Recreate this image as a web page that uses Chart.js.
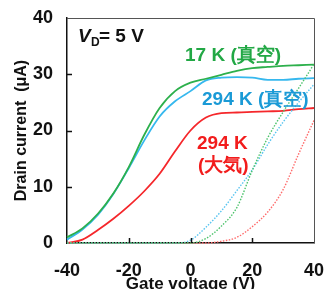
<!DOCTYPE html>
<html>
<head>
<meta charset="utf-8">
<script src="https://cdn.jsdelivr.net/npm/chart.js@4"></script>
<style>
  html, body { margin: 0; padding: 0; background: #fff; }
  #wrap { width: 324px; height: 289px; }
</style>
</head>
<body>
<div id="wrap"><canvas id="c" width="324" height="289"></canvas></div>
<script>
// gate voltage (V)
const gateV = [-40, -35, -30, -25, -20, -15, -10, -5, 0, 5, 10, 15, 20, 25, 30, 35, 40];

// drain current (uA), solid curves
const vac17K  = [1.0, 2.6, 5.2, 8.8, 13.5, 19.2, 24.0, 27.0, 28.5, 29.2, 29.9, 30.6, 31.1, 31.3, 31.5, 31.6, 31.7];
const vac294K = [0.6, 2.4, 5.0, 8.7, 13.3, 18.2, 22.5, 25.2, 27.0, 28.9, 29.4, 29.5, 29.4, 29.0, 29.0, 29.2, 29.3];
const air294K = [0.0, 0.6, 2.3, 4.3, 6.6, 9.2, 12.3, 16.3, 20.0, 22.3, 23.1, 23.2, 23.3, 23.4, 23.5, 23.8, 24.0];

// dotted curves
const vac17KDot  = [0, 0, 0, 0, 0, 0, 0, 0, 0, 0.8, 3.0, 6.3, 12.9, 18.7, 23.3, 27.5, 31.8];
const vac294KDot = [0, 0, 0, 0, 0, 0, 0, 0, 0.5, 2.8, 5.7, 9.3, 13.0, 17.5, 21.5, 25.0, 28.2];
const air294KDot = [0, 0, 0, 0, 0, 0, 0, 0, 0, 0, 0.3, 1.0, 2.9, 5.5, 9.5, 15.8, 21.8];

const yTicks = [0, 10, 20, 30, 40];
const xTicks = [-40, -20, 0, 20, 40];

const GREEN = '#2db04c';
const BLUE = '#36b8ee';
const RED = '#f5272b';

const FONT = 'Liberation Sans, Arial, sans-serif';

function pts(ys) {
  return gateV.map((x, i) => ({ x: x, y: ys[i] }));
}

function solid(label, ys, color) {
  return {
    label, data: pts(ys), borderColor: color, borderWidth: 1.8,
    pointRadius: 0, cubicInterpolationMode: 'monotone', clip: 4
  };
}

function dotted(label, ys, color) {
  return {
    label, data: pts(ys), borderColor: color, borderWidth: 1.4,
    borderDash: [1.5, 1.5], pointRadius: 0, cubicInterpolationMode: 'monotone', clip: 4
  };
}

// frame, inward ticks and the text labels
const decor = {
  id: 'decor',
  afterDraw(chart) {
    const { ctx, chartArea: a, scales: { x, y } } = chart;
    ctx.save();
    ctx.strokeStyle = '#555';
    ctx.lineWidth = 1;
    ctx.beginPath();
    ctx.moveTo(a.left, a.top + 0.5);
    ctx.lineTo(a.right + 0.5, a.top + 0.5);
    ctx.lineTo(a.right + 0.5, a.bottom);
    ctx.stroke();

    ctx.strokeStyle = '#111';
    ctx.lineWidth = 1.5;
    ctx.beginPath();
    [10, 20, 30].forEach(v => {
      const py = Math.round(y.getPixelForValue(v)) + 0.5;
      ctx.moveTo(a.left, py);
      ctx.lineTo(a.left + 5, py);
    });
    [-20, 0, 20].forEach(v => {
      const px = Math.round(x.getPixelForValue(v)) + 0.5;
      ctx.moveTo(px, a.bottom);
      ctx.lineTo(px, a.bottom - 5);
    });
    ctx.stroke();

    ctx.textBaseline = 'alphabetic';
    ctx.textAlign = 'left';
    // V_D = 5 V
    ctx.fillStyle = '#111';
    ctx.font = 'italic bold 19px ' + FONT;
    ctx.fillText('V', 78, 42);
    ctx.font = 'bold 12px ' + FONT;
    ctx.fillText('D', 91, 46);
    ctx.font = 'bold 19px ' + FONT;
    ctx.fillText('= 5 V', 99, 42);

    ctx.font = 'bold 19px ' + FONT;
    ctx.fillStyle = '#22a845';
    ctx.fillText('17 K (真空)', 185, 61);
    ctx.fillStyle = '#1a9ad6';
    ctx.fillText('294 K (真空)', 202, 105);
    ctx.fillStyle = '#f21c1c';
    ctx.fillText('294 K', 197, 149);
    ctx.fillText('(大気)', 198, 171);
    ctx.restore();
  }
};

new Chart(document.getElementById('c'), {
  type: 'line',
  data: {
    datasets: [
      dotted('17 K dot', vac17KDot, '#4cc36b'),
      dotted('294 K dot', vac294KDot, '#58c4f0'),
      dotted('air dot', air294KDot, '#ff6a6a'),
      solid('17 K (真空)', vac17K, GREEN),
      solid('294 K (真空)', vac294K, BLUE),
      solid('294 K (大気)', air294K, RED)
    ]
  },
  options: {
    responsive: false,
    animation: false,
    layout: { padding: { top: 18, right: 10, left: 0, bottom: 0 } },
    plugins: { legend: { display: false }, tooltip: { enabled: false } },
    scales: {
      x: {
        type: 'linear', min: -40, max: 40,
        afterFit(s) { s.height = 46; s.paddingLeft = 0; s.paddingRight = 0; },
        afterBuildTicks(s) { s.ticks = xTicks.map(v => ({ value: v })); },
        grid: { display: false, drawTicks: false },
        border: { color: '#111', width: 1.5 },
        ticks: { padding: 17, color: '#111', font: { family: FONT, size: 18, weight: 'bold' }, maxRotation: 0 },
        title: {
          display: true, text: 'Gate voltage (V)', color: '#111',
          font: { family: FONT, size: 17, weight: 'bold', lineHeight: 0.5 },
          padding: { top: 0, bottom: 0 }
        }
      },
      y: {
        min: 0, max: 40,
        afterFit(s) { s.width = 67; s.paddingTop = 0; s.paddingBottom = 0; },
        afterBuildTicks(s) { s.ticks = yTicks.map(v => ({ value: v })); },
        grid: { display: false, drawTicks: false },
        border: { color: '#111', width: 1.5 },
        ticks: { padding: 14, color: '#111', font: { family: FONT, size: 18, weight: 'bold' } },
        title: {
          display: true, text: 'Drain current  (μA)', color: '#111',
          font: { family: FONT, size: 16, weight: 'bold', lineHeight: 1 },
          padding: { top: 14, bottom: 0 }
        }
      }
    }
  },
  plugins: [decor]
});
</script>
</body>
</html>
